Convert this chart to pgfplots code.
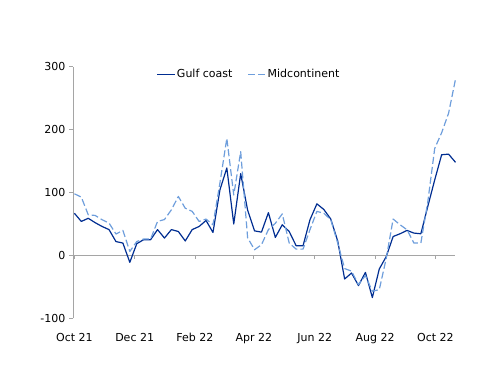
\documentclass[border=0pt]{standalone}
\usepackage{fontspec}
\setmainfont{DejaVu Sans}
\usepackage{pgfplots}
\pgfplotsset{compat=1.18}
\definecolor{gulf}{RGB}{0,45,145}
\definecolor{mid}{RGB}{110,158,220}
\definecolor{axgray}{RGB}{165,165,165}
\begin{document}
\begin{tikzpicture}
\begin{axis}[
  scale only axis,
  width=382.5bp, height=251.6bp,
  xmin=-0.2, xmax=55,
  ymin=-100, ymax=300,
  ytick={-100,0,100,200,300},
  xtick={0,8.7,17.4,25.9,34.7,43.4,52.1},
  xticklabels={Oct 21,Dec 21,Feb 22,Apr 22,Jun 22,Aug 22,Oct 22},
  axis y line*=left,
  axis x line*=bottom,
  x axis line style={draw=none},
  y axis line style={-, draw=axgray, line width=0.8pt},
  major x tick style={draw=none},
  major y tick style={draw=axgray, line width=0.8pt},
  tick align=outside,
  major tick length=3.5bp,
  /pgf/number format/assume math mode=true,
  tick label style={font=\fontsize{11bp}{13bp}\selectfont, text=black},
  x tick label style={anchor=north, inner sep=0pt, yshift=-11bp},
  y tick label style={anchor=east, inner sep=0pt, xshift=-4bp},
  extra y ticks={0},
  extra y tick labels={},
  extra y tick style={grid=major, major grid style={draw=axgray, line width=0.8pt}, major tick length=0pt},
  legend columns=2,
  legend style={draw=none, fill=none, at={(0.459,0.970)}, anchor=center,
    font=\fontsize{11bp}{13bp}\selectfont, inner sep=0pt,
    /tikz/every even column/.append style={column sep=14bp},
    nodes={inner sep=1bp}},
  legend image code/.code={\draw[#1] (0bp,0bp) -- (18bp,0bp);},
  clip=false,
]
\draw[axgray, line width=0.8pt] (axis cs:0,0) -- ([yshift=-3.5bp]axis cs:0,0);
\draw[axgray, line width=0.8pt] (axis cs:8.7,0) -- ([yshift=-3.5bp]axis cs:8.7,0);
\draw[axgray, line width=0.8pt] (axis cs:17.4,0) -- ([yshift=-3.5bp]axis cs:17.4,0);
\draw[axgray, line width=0.8pt] (axis cs:25.9,0) -- ([yshift=-3.5bp]axis cs:25.9,0);
\draw[axgray, line width=0.8pt] (axis cs:34.7,0) -- ([yshift=-3.5bp]axis cs:34.7,0);
\draw[axgray, line width=0.8pt] (axis cs:43.4,0) -- ([yshift=-3.5bp]axis cs:43.4,0);
\draw[axgray, line width=0.8pt] (axis cs:52.1,0) -- ([yshift=-3.5bp]axis cs:52.1,0);
\addplot[gulf, line width=1.2pt, line join=round] coordinates {
(0,67) (1,54) (2,59) (3,52) (4,46) (5,41) (6,22) (7,19.6) (8,-11) (9,18.6)
(10,25) (11,25) (12,41) (13,27.6) (14,41) (15,38) (16,23) (17,41) (18,46) (19,55.5)
(20,36.5) (21,104) (22,139) (23,50) (24,130) (25,72) (26,39) (27,37) (28,68) (29,28.6)
(30,48.7) (31,38) (32,15.4) (33,15.4) (34,56.7) (35,82) (36,73) (37,57.8) (38,23) (39,-37.5)
(40,-28) (41,-48) (42,-27) (43,-67) (44,-21.6) (45,-2) (46,30) (47,34.4) (48,39.7) (49,35.5)
(50,34.4) (51,77.8) (52,120) (53,160) (54,161) (55,148)
};
\addlegendentry{Gulf coast}
\addplot[mid, line width=1.2pt, dash pattern=on 7bp off 3bp, line join=round] coordinates {
(0,98) (1,92.6) (2,64.6) (3,63.5) (4,56.7) (5,51.4) (6,34) (7,39.7) (8,6.3) (9,22)
(10,26) (11,26) (12,54) (13,57) (14,72.5) (15,93.7) (16,75) (17,70) (18,54) (19,57.8)
(20,48.7) (21,115) (22,186) (23,96) (24,165) (25,28) (26,9) (27,17) (28,41) (29,51)
(30,66) (31,19.7) (32,10) (33,10) (34,41) (35,70) (36,67) (37,56.7) (38,19.7) (39,-21)
(40,-25) (41,-46.5) (42,-32) (43,-57) (44,-54.4) (45,-5) (46,57.8) (47,48.7) (48,40.8) (49,19.7)
(50,19.7) (51,85) (52,170) (53,195) (54,226) (55,280)
};
\addlegendentry{Midcontinent}
\end{axis}
\path[use as bounding box] (-73bp,-67.7bp) rectangle (427bp,318.3bp);
\end{tikzpicture}
\end{document}
